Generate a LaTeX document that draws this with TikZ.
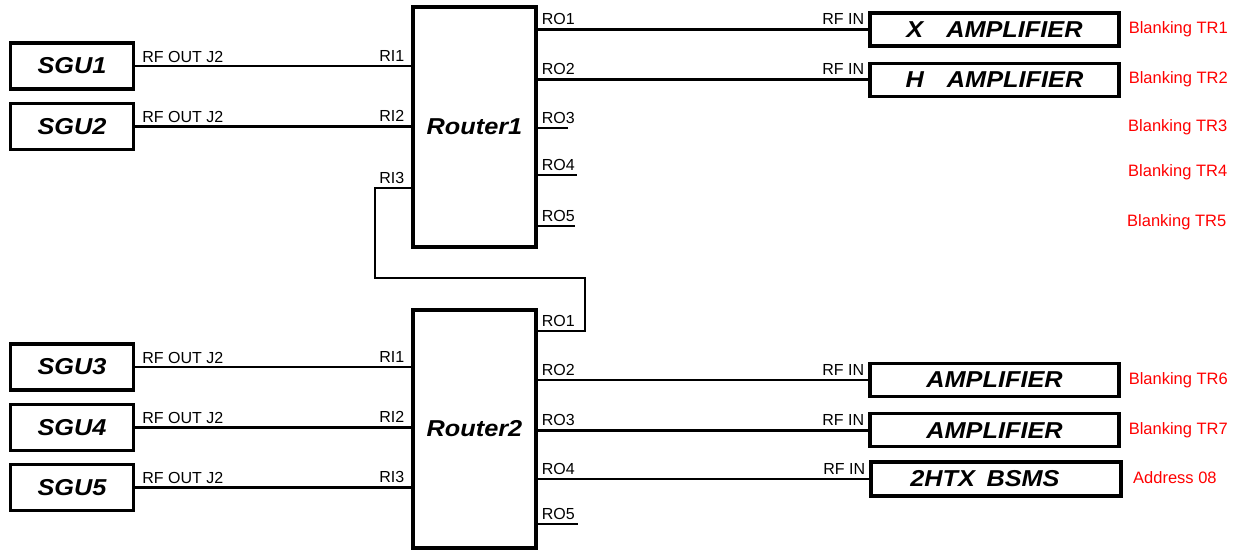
\documentclass[tikz,border=0pt]{standalone}
\usepackage{fontspec}
\setmainfont{Liberation Sans}
\newfontfamily\boxfamily{Liberation Sans}[FakeStretch=1.1]
\usepackage{xcolor}
\usepackage{tikz}
\usetikzlibrary{positioning}

\begin{document}
\begin{tikzpicture}[
    x=1pt, y=-1pt,
    wire/.style={line width=2.6pt},
    sgu/.style={rectangle, draw, line width=3.2pt, minimum width=123pt, minimum height=46pt, font=\boxfamily\bfseries\itshape\fontsize{23}{27}\selectfont},
    router/.style={rectangle, draw, line width=3.2pt, minimum width=123pt, font=\boxfamily\bfseries\itshape\fontsize{23}{27}\selectfont},
    amp/.style={rectangle, draw, line width=3.2pt, minimum width=249pt, minimum height=33pt, font=\boxfamily\bfseries\itshape\fontsize{23}{27}\selectfont},
    port/.style={inner sep=0pt, font=\fontsize{16}{19}\selectfont},
    note/.style={inner sep=0pt, text=red, font=\fontsize{16.5}{19}\selectfont}
]
\useasboundingbox (0,0) rectangle (1242,550);

% Signal generators
\node[sgu] (sgu1) at (72,66) {SGU1};
\node[sgu, below=11pt of sgu1] (sgu2) {SGU2};
\node[sgu] (sgu3) at (72,367) {SGU3};
\node[sgu, below=11pt of sgu3] (sgu4) {SGU4};
\node[sgu, below=11pt of sgu4] (sgu5) {SGU5};

% Routers
\node[router, minimum height=240pt] (router1) at (474.5,127) {Router1};
\node[router, minimum height=238pt] (router2) at (474.5,429) {Router2};

% Loads
\node[amp] (xamp) at (994.5,29.5) {X\quad AMPLIFIER};
\node[amp, below=14pt of xamp] (hamp) {H\quad AMPLIFIER};
\node[amp] (amp6) at (994.5,380) {AMPLIFIER};
\node[amp, below=14pt of amp6] (amp7) {AMPLIFIER};
\node[amp, minimum width=250pt, minimum height=34pt] (bsms) at (996,479) {2HTX\enspace BSMS\hspace*{22pt}};

% Free ends and bends
\coordinate (r1i3) at (router1.west |- 0,188);
\coordinate (r1o3) at (568,128);
\coordinate (r1o4) at (577,175);
\coordinate (r1o5) at (575,226);
\coordinate (r2o1) at (router2.east |- 0,331);
\coordinate (r2o5) at (578,524);
\coordinate (bendl) at (375,278);
\coordinate (bendr) at (585,278);

% Wires
\draw[wire] (sgu1.east) -- (sgu1.east -| router1.west);
\draw[wire] (sgu2.east) -- (sgu2.east -| router1.west);
\draw[wire] (sgu3.east) -- (sgu3.east -| router2.west);
\draw[wire] (sgu4.east) -- (sgu4.east -| router2.west);
\draw[wire] (sgu5.east) -- (sgu5.east -| router2.west);
\draw[wire] (router1.east |- xamp.west) -- (xamp.west);
\draw[wire] (router1.east |- hamp.west) -- (hamp.west);
\draw[wire] (router1.east |- r1o3) -- (r1o3);
\draw[wire] (router1.east |- r1o4) -- (r1o4);
\draw[wire] (router1.east |- r1o5) -- (r1o5);
\draw[wire] (r1i3) -| (bendl) -- (bendr) |- (r2o1);
\draw[wire] (router2.east |- amp6.west) -- (amp6.west);
\draw[wire] (router2.east |- amp7.west) -- (amp7.west);
\draw[wire] (router2.east |- bsms.west) -- (bsms.west);
\draw[wire] (router2.east |- r2o5) -- (r2o5);

% Port names
\node[port, anchor=base west, xshift=7pt, yshift=4pt] (rfo1) at (sgu1.east) {RF OUT J2};
\node[port, anchor=base west, xshift=7pt, yshift=4pt] (rfo2) at (sgu2.east) {RF OUT J2};
\node[port, anchor=base west, xshift=7pt, yshift=4pt] (rfo3) at (sgu3.east) {RF OUT J2};
\node[port, anchor=base west, xshift=7pt, yshift=4pt] (rfo4) at (sgu4.east) {RF OUT J2};
\node[port, anchor=base west, xshift=7pt, yshift=4pt] (rfo5) at (sgu5.east) {RF OUT J2};

\node[port, anchor=base east, xshift=-7pt, yshift=5pt] (r1ri1) at (sgu1.east -| router1.west) {RI1};
\node[port, anchor=base east, xshift=-7pt, yshift=5pt] (r1ri2) at (sgu2.east -| router1.west) {RI2};
\node[port, anchor=base east, xshift=-7pt, yshift=5pt] (r1ri3) at (r1i3) {RI3};
\node[port, anchor=base east, xshift=-7pt, yshift=5pt] (r2ri1) at (sgu3.east -| router2.west) {RI1};
\node[port, anchor=base east, xshift=-7pt, yshift=5pt] (r2ri2) at (sgu4.east -| router2.west) {RI2};
\node[port, anchor=base east, xshift=-7pt, yshift=5pt] (r2ri3) at (sgu5.east -| router2.west) {RI3};

\node[port, anchor=base west, xshift=4pt, yshift=5pt] (r1ro1) at (router1.east |- xamp.west) {RO1};
\node[port, anchor=base west, xshift=4pt, yshift=5pt] (r1ro2) at (router1.east |- hamp.west) {RO2};
\node[port, anchor=base west, xshift=4pt, yshift=5pt] (r1ro3) at (router1.east |- r1o3) {RO3};
\node[port, anchor=base west, xshift=4pt, yshift=5pt] (r1ro4) at (router1.east |- r1o4) {RO4};
\node[port, anchor=base west, xshift=4pt, yshift=5pt] (r1ro5) at (router1.east |- r1o5) {RO5};
\node[port, anchor=base west, xshift=4pt, yshift=5pt] (r2ro1) at (r2o1) {RO1};
\node[port, anchor=base west, xshift=4pt, yshift=5pt] (r2ro2) at (router2.east |- amp6.west) {RO2};
\node[port, anchor=base west, xshift=4pt, yshift=5pt] (r2ro3) at (router2.east |- amp7.west) {RO3};
\node[port, anchor=base west, xshift=4pt, yshift=5pt] (r2ro4) at (router2.east |- bsms.west) {RO4};
\node[port, anchor=base west, xshift=4pt, yshift=5pt] (r2ro5) at (router2.east |- r2o5) {RO5};

\node[port, anchor=base east, xshift=-4pt, yshift=5pt] (rfin1) at (xamp.west) {RF IN};
\node[port, anchor=base east, xshift=-4pt, yshift=5pt] (rfin2) at (hamp.west) {RF IN};
\node[port, anchor=base east, xshift=-4pt, yshift=5pt] (rfin6) at (amp6.west) {RF IN};
\node[port, anchor=base east, xshift=-4pt, yshift=5pt] (rfin7) at (amp7.west) {RF IN};
\node[port, anchor=base east, xshift=-4pt, yshift=5pt] (rfin8) at (bsms.west) {RF IN};

% Blanking notes
\node[note, anchor=west, xshift=8pt] (tr1) at (xamp.east) {Blanking TR1};
\node[note, anchor=west, xshift=8pt] (tr2) at (hamp.east) {Blanking TR2};
\node[note, anchor=west] (tr3) at (1128,127) {Blanking TR3};
\node[note, anchor=west] (tr4) at (1128,172) {Blanking TR4};
\node[note, anchor=west] (tr5) at (1127,222) {Blanking TR5};
\node[note, anchor=west, xshift=8pt] (tr6) at (amp6.east) {Blanking TR6};
\node[note, anchor=west, xshift=8pt] (tr7) at (amp7.east) {Blanking TR7};
\node[note, anchor=west] (addr) at (1133,478) {Address 08};

\end{tikzpicture}
\end{document}
